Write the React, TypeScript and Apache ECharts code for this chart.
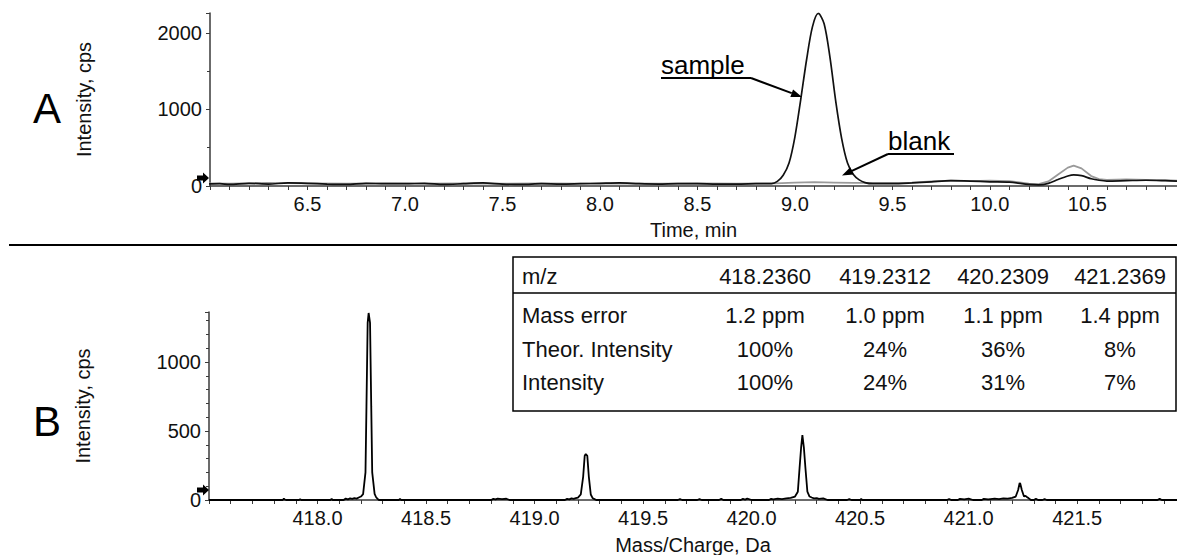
import React, { useEffect, useRef } from 'react';
import * as echarts from 'echarts';

const FONT = '"Liberation Sans", Arial, Helvetica, sans-serif';

// Panel A: extracted ion chromatogram (time in min, intensity in cps)
const sampleTrace: [number, number][] = [
  [5.98, 25], [6.05, 30], [6.1, 20], [6.2, 35], [6.3, 25], [6.4, 40], [6.5, 35], [6.6, 25], [6.7, 20],
  [6.8, 35], [6.9, 30], [7.0, 30], [7.1, 35], [7.2, 20], [7.3, 30], [7.4, 40], [7.5, 25], [7.6, 20],
  [7.7, 30], [7.8, 25], [7.9, 30], [8.0, 35], [8.1, 40], [8.2, 30], [8.3, 25], [8.4, 30], [8.5, 30],
  [8.6, 25], [8.7, 25], [8.8, 30], [8.88, 32], [8.91, 60], [8.94, 140], [8.97, 300], [9.0, 640],
  [9.03, 1130], [9.06, 1650], [9.09, 2080], [9.12, 2255], [9.15, 2120], [9.18, 1680], [9.21, 1100],
  [9.24, 620], [9.27, 300], [9.3, 150], [9.33, 80], [9.36, 45], [9.4, 30], [9.5, 30], [9.6, 40],
  [9.7, 55], [9.8, 70], [9.9, 65], [10.0, 55], [10.1, 50], [10.2, 20], [10.25, 15], [10.3, 35],
  [10.35, 85], [10.4, 130], [10.43, 145], [10.47, 135], [10.52, 95], [10.56, 75], [10.6, 65],
  [10.7, 70], [10.8, 75], [10.9, 70], [10.96, 65],
];

const blankTrace: [number, number][] = [
  [5.98, 35], [6.1, 30], [6.3, 40], [6.5, 35], [6.7, 30], [6.9, 35], [7.1, 30], [7.3, 35], [7.5, 30],
  [7.7, 35], [7.9, 30], [8.1, 35], [8.3, 30], [8.5, 35], [8.7, 30], [8.9, 35], [9.0, 45], [9.1, 50],
  [9.2, 45], [9.3, 40], [9.4, 40], [9.5, 40], [9.6, 45], [9.7, 60], [9.8, 70], [9.9, 65], [10.0, 70],
  [10.1, 65], [10.2, 30], [10.25, 25], [10.3, 60], [10.35, 150], [10.4, 240], [10.43, 265],
  [10.47, 230], [10.52, 130], [10.56, 90], [10.6, 80], [10.7, 85], [10.8, 80], [10.9, 75], [10.96, 70],
];

// Panel B: mass spectrum (m/z in Da, intensity in cps)
const spectrum: [number, number][] = [
  [417.5, 0], [417.84, 0], [417.845, 10], [417.85, 3], [417.855, 0],
  [417.915, 0], [417.92, 6], [417.925, 0],
  [418.06, 0], [418.065, 8], [418.07, 0],
  [418.12, 0], [418.13, 10], [418.14, 5], [418.15, 12], [418.16, 8], [418.17, 14], [418.18, 10],
  [418.19, 18], [418.2, 25], [418.21, 42], [418.221, 200], [418.2255, 680], [418.231, 1283],
  [418.2355, 1355], [418.2375, 1355], [418.242, 1283], [418.2475, 680], [418.252, 200], [418.263, 45],
  [418.27, 20], [418.277, 8], [418.283, 0],
  [418.375, 0], [418.38, 7], [418.385, 0],
  [418.8, 0], [418.81, 8], [418.82, 4], [418.83, 10], [418.85, 6], [418.87, 9], [418.885, 0],
  [419.14, 0], [419.15, 8], [419.16, 5], [419.17, 12], [419.18, 8], [419.19, 14], [419.2, 18],
  [419.213, 40], [419.224, 170], [419.231, 320], [419.236, 333], [419.238, 333], [419.243, 320],
  [419.25, 170], [419.259, 40], [419.267, 15], [419.274, 8], [419.284, 0],
  [419.66, 0], [419.67, 6], [419.68, 0],
  [419.75, 0], [419.76, 6], [419.77, 0], [419.85, 0], [419.86, 8], [419.87, 0], [419.95, 0],
  [419.96, 8], [419.97, 3], [419.98, 10], [420.0, 0],
  [420.08, 0], [420.09, 8], [420.1, 4], [420.12, 10], [420.14, 6], [420.16, 12], [420.18, 15],
  [420.2, 25], [420.213, 60], [420.221, 232], [420.228, 377], [420.234, 471], [420.237, 471],
  [420.241, 377], [420.248, 232], [420.257, 60], [420.267, 25], [420.277, 18], [420.287, 12],
  [420.3, 14], [420.31, 8], [420.33, 12], [420.35, 0],
  [420.44, 0], [420.45, 6], [420.46, 0], [420.5, 0], [420.505, 7], [420.51, 0],
  [420.9, 0], [420.91, 7], [420.92, 0], [420.95, 0], [420.96, 8], [420.98, 4], [421.0, 10],
  [421.02, 0], [421.06, 0], [421.07, 8], [421.09, 5], [421.12, 10], [421.14, 7], [421.16, 12],
  [421.18, 10], [421.2, 15], [421.217, 25], [421.228, 72], [421.235, 123], [421.238, 118],
  [421.245, 72], [421.255, 25], [421.262, 30], [421.27, 20], [421.277, 12], [421.287, 0],
  [421.3, 0], [421.31, 8], [421.32, 0], [421.34, 0], [421.35, 6], [421.36, 0],
  [421.87, 0], [421.88, 8], [421.89, 0],
  [421.96, 0],
];

// Isotope table
const tableHeader = ['m/z', '418.2360', '419.2312', '420.2309', '421.2369'];
const massErrorRow = ['Mass error', '1.2 ppm', '1.0 ppm', '1.1 ppm', '1.4 ppm'];
const theorIntensityRow = ['Theor. Intensity', '100%', '24%', '36%', '8%'];
const intensityRow = ['Intensity', '100%', '24%', '31%', '7%'];

const panelLabels = ['A', 'B'];
const yAxisTitle = 'Intensity, cps';
const timeAxisTitle = 'Time, min';
const massAxisTitle = 'Mass/Charge, Da';
const annotations = ['sample', 'blank'];

const AXIS_COLOR = '#3a3a3a';
const TEXT_COLOR = '#111';

function arrow(x1: number, y1: number, x2: number, y2: number, head = 11, half = 4) {
  const dx = x2 - x1;
  const dy = y2 - y1;
  const len = Math.hypot(dx, dy);
  const ux = dx / len;
  const uy = dy / len;
  const bx = x2 - ux * head;
  const by = y2 - uy * head;
  return [
    { type: 'line', z: 100, shape: { x1, y1, x2: bx, y2: by }, style: { stroke: '#000', lineWidth: 2 } },
    {
      type: 'polygon', z: 100,
      shape: { points: [[x2, y2], [bx - uy * half, by + ux * half], [bx + uy * half, by - ux * half]] },
      style: { fill: '#000' },
    },
  ];
}

function zeroMarker(y: number) {
  return {
    type: 'polygon', z: 100,
    shape: { points: [[197, y - 2.5], [203, y - 2.5], [203, y - 5.5], [209, y], [203, y + 5.5], [203, y + 2.5], [197, y + 2.5]] },
    style: { fill: '#000' },
  };
}

function axisCommon(fmt: (v: number) => string) {
  return {
    axisLine: { show: true, onZero: false, lineStyle: { color: AXIS_COLOR, width: 1.5 } },
    axisTick: { show: true, inside: false, length: 4, lineStyle: { color: AXIS_COLOR, width: 1 } },
    splitLine: { show: false },
    axisLabel: { formatter: fmt, color: TEXT_COLOR, fontSize: 20, fontFamily: FONT, margin: 8 },
    nameTextStyle: { color: TEXT_COLOR, fontSize: 20, fontFamily: FONT },
  };
}

function buildTable() {
  const left = 513;
  const top = 257;
  const right = 1176;
  const bottom = 411;
  const headerLine = 293;
  const colCenters = [0, 765, 885, 1003, 1120];
  const rowCenters = [276, 315, 349, 382];
  const rows = [tableHeader, massErrorRow, theorIntensityRow, intensityRow];
  const els: any[] = [
    { type: 'rect', z: 90, shape: { x: left, y: top, width: right - left, height: bottom - top }, style: { fill: '#fff', stroke: '#000', lineWidth: 1.5 } },
    { type: 'line', z: 91, shape: { x1: left, y1: headerLine, x2: right, y2: headerLine }, style: { stroke: '#000', lineWidth: 1.5 } },
  ];
  rows.forEach((row, ri) => {
    row.forEach((cell, ci) => {
      els.push({
        type: 'text', z: 92,
        x: ci === 0 ? 522 : colCenters[ci],
        y: rowCenters[ri],
        style: {
          text: cell, fontSize: 22, fontFamily: FONT, fill: TEXT_COLOR,
          align: ci === 0 ? 'left' : 'center', verticalAlign: 'middle',
        },
      });
    });
  });
  return els;
}

export default function App() {
  const ref = useRef<HTMLDivElement>(null);

  useEffect(() => {
    if (!ref.current) return;
    const chart = echarts.init(ref.current, null, { renderer: 'svg' });

    const timeFmt = (v: number) => {
      const r = Math.round(v * 2) / 2;
      if (Math.abs(v - r) > 1e-6 || r < 6.25 || r > 10.9) return '';
      return r.toFixed(1);
    };
    const massFmt = (v: number) => {
      const r = Math.round(v * 2) / 2;
      if (Math.abs(v - r) > 1e-6 || r < 417.75) return '';
      return r.toFixed(1);
    };
    const intFmtA = (v: number) => (Math.abs(v % 1000) < 1e-6 ? String(v) : '');
    const intFmtB = (v: number) => (Math.abs(v % 500) < 1e-6 ? String(v) : '');

    const option: any = {
      animation: false,
      backgroundColor: '#fff',
      grid: [
        { left: 210, top: 13, width: 967, height: 173, outerBoundsMode: 'none' },
        { left: 209, top: 312, width: 968, height: 188, outerBoundsMode: 'none' },
      ],
      xAxis: [
        {
          type: 'value', gridIndex: 0, min: 6.0, max: 10.96, interval: 0.5,
          ...axisCommon(timeFmt),
          minorTick: { show: true, splitNumber: 5, length: 4, lineStyle: { color: AXIS_COLOR, width: 1 } },
          name: timeAxisTitle, nameLocation: 'middle', nameGap: 34,
        },
        {
          type: 'value', gridIndex: 1, min: 417.5, max: 421.96, interval: 0.5,
          ...axisCommon(massFmt),
          minorTick: { show: true, splitNumber: 5, length: 4, lineStyle: { color: AXIS_COLOR, width: 1 } },
          name: massAxisTitle, nameLocation: 'middle', nameGap: 35,
        },
      ],
      yAxis: [
        {
          type: 'value', gridIndex: 0, min: 0, max: 2261, interval: 1000,
          ...axisCommon(intFmtA),
          minorTick: { show: true, splitNumber: 2, length: 3, lineStyle: { color: AXIS_COLOR, width: 1 } },
          name: yAxisTitle, nameLocation: 'middle', nameGap: 116,
        },
        {
          type: 'value', gridIndex: 1, min: 0, max: 1362, interval: 500,
          ...axisCommon(intFmtB),
          minorTick: { show: true, splitNumber: 5, length: 3, lineStyle: { color: AXIS_COLOR, width: 1 } },
          name: yAxisTitle, nameLocation: 'middle', nameGap: 116,
        },
      ],
      series: [
        {
          name: 'blank', type: 'line', xAxisIndex: 0, yAxisIndex: 0, data: blankTrace,
          showSymbol: false, symbol: 'none', smooth: false,
          lineStyle: { color: '#9a9a9a', width: 1.8 }, z: 2,
        },
        {
          name: 'sample', type: 'line', xAxisIndex: 0, yAxisIndex: 0, data: sampleTrace,
          showSymbol: false, symbol: 'none', smooth: 0.3,
          lineStyle: { color: '#111', width: 1.7 }, z: 3,
        },
        {
          name: 'spectrum', type: 'line', xAxisIndex: 1, yAxisIndex: 1, data: spectrum,
          showSymbol: false, symbol: 'none',
          lineStyle: { color: '#000', width: 1.8 }, z: 3,
        },
      ],
      graphic: [
        { type: 'line', z: 100, shape: { x1: 9, y1: 245, x2: 1177, y2: 245 }, style: { stroke: '#000', lineWidth: 2.2 } },
        { type: 'text', z: 100, x: 47, y: 108, style: { text: panelLabels[0], fontSize: 42, fontFamily: FONT, fill: '#000', align: 'center', verticalAlign: 'middle' } },
        { type: 'text', z: 100, x: 47, y: 421, style: { text: panelLabels[1], fontSize: 42, fontFamily: FONT, fill: '#000', align: 'center', verticalAlign: 'middle' } },
        zeroMarker(178),
        zeroMarker(490),
        { type: 'text', z: 100, x: 661, y: 65, style: { text: annotations[0], fontSize: 26, fontFamily: FONT, fill: '#000', align: 'left', verticalAlign: 'middle' } },
        { type: 'line', z: 100, shape: { x1: 661, y1: 78, x2: 751, y2: 78 }, style: { stroke: '#000', lineWidth: 2 } },
        ...arrow(751, 78, 802, 97),
        { type: 'text', z: 100, x: 888, y: 141, style: { text: annotations[1], fontSize: 26, fontFamily: FONT, fill: '#000', align: 'left', verticalAlign: 'middle' } },
        { type: 'line', z: 100, shape: { x1: 888, y1: 154, x2: 954, y2: 154 }, style: { stroke: '#000', lineWidth: 2 } },
        ...arrow(888, 154, 842, 175.5),
        ...buildTable(),
      ],
    };

    chart.setOption(option);
    return () => chart.dispose();
  }, []);

  return (
    <div
      ref={ref}
      style={{ position: 'fixed', left: 0, top: 0, width: 1177, height: 555, background: '#fff' }}
    />
  );
}
